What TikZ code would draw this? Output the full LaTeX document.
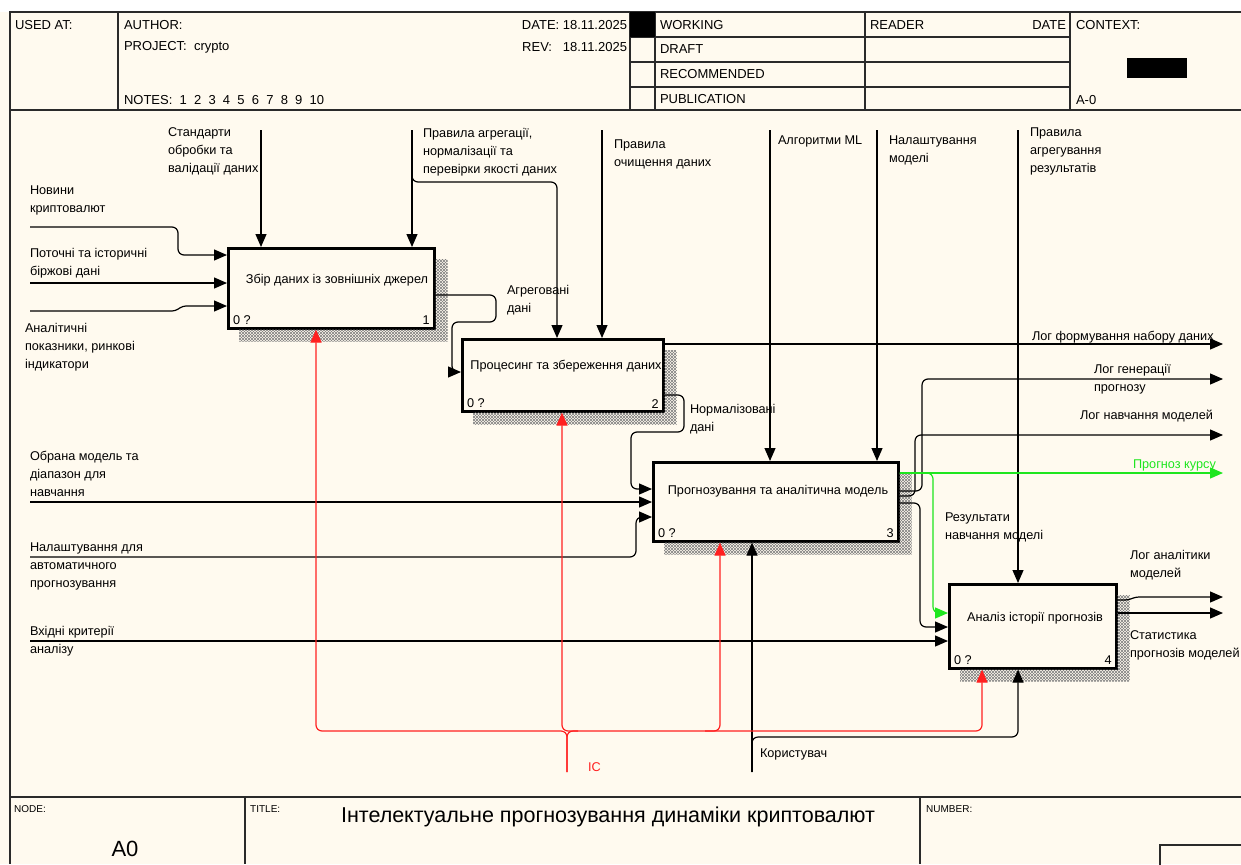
\documentclass[tikz,border=0pt]{standalone}
\usepackage{fontspec}
\setmainfont{Liberation Sans}
\usetikzlibrary{arrows.meta,patterns,calc}

\definecolor{paper}{HTML}{FFFAEF}
\definecolor{rule}{HTML}{2A2A2A}
\definecolor{icred}{HTML}{FF2020}
\definecolor{fcgreen}{HTML}{1EE61E}

\tikzset{
  txt/.style={font=\fontsize{12.7}{18}\selectfont, inner sep=0pt, outer sep=0pt},
  lbl/.style={txt, align=left, anchor=north west},
  hdr/.style={font=\fontsize{13}{15}\selectfont, inner sep=0pt, outer sep=0pt, anchor=west},
  tag/.style={font=\fontsize{10}{11}\selectfont, inner sep=0pt, anchor=north west},
  frame/.style={draw=rule, line width=1.4pt},
  func/.style={draw=black, line width=2.6pt, fill=paper, anchor=north west, inner sep=0pt},
  flow/.style={draw=black, line width=1.2pt, rounded corners=6pt},
  arr/.style={flow, -{Triangle[length=13pt,width=11pt]}},
  icarr/.style={arr, color=icred},
  fcarr/.style={arr, color=fcgreen},
  hatchA/.style={pattern=north east lines, pattern color=gray},
  hatchB/.style={pattern=north west lines, pattern color=gray},
}

% hatched drop shadow to the right of and below a function box
\newcommand\boxshade[1]{%
  \foreach \h in {hatchA,hatchB}{%
    \path[\h] ($(#1.north east)+(0,12)$) -- ++(12,0)
      -- ($(#1.south east)+(12,12)$) -- ($(#1.south west)+(12,12)$)
      -- ($(#1.south west)+(12,0)$) -- (#1.south east) -- cycle;}%
}

\begin{document}
\begin{tikzpicture}[x=1pt, y=-1pt]
% sheet
\useasboundingbox (0,0) rectangle (1241,864);
\fill[white] (0,0) rectangle (1241,864);
\fill[paper] (0,12) rectangle (1241,864);

% ---------- form frame ----------
\draw[frame] (1241,12) -- (10,12) -- (10,864);
\draw[frame] (10,110) -- (1241,110);
\draw[frame] (10,797) -- (1241,797);
\draw[frame] (118,12) -- (118,110);
\draw[frame] (630,12) -- (630,110);
\draw[frame] (655,12) -- (655,110);
\draw[frame] (865,12) -- (865,110);
\draw[frame] (1070,12) -- (1070,110);
\draw[frame] (630,37) -- (1070,37);
\draw[frame] (630,62) -- (1070,62);
\draw[frame] (630,87) -- (1070,87);
\fill[black] (630,12) rectangle (655,37);
\fill[black] (1127,58) rectangle (1187,78);
\draw[frame] (245,797) -- (245,864);
\draw[frame] (920,797) -- (920,864);
\draw[frame] (1160,845) rectangle (1250,870);

% header texts
\node[hdr] (usedat) at (15,25) {USED AT:};
\node[hdr] (author) at (124,25) {AUTHOR:};
\node[hdr] (project) at (124,47) {PROJECT:\ \ crypto};
\node[hdr] (notes) at (124,100) {NOTES:\ \ 1\ \ 2\ \ 3\ \ 4\ \ 5\ \ 6\ \ 7\ \ 8\ \ 9\ \ 10};
\node[hdr, anchor=east] (date) at (627,25) {DATE: 18.11.2025};
\node[hdr, anchor=east] (rev) at (627,47) {REV:\ \ \ 18.11.2025};
\node[hdr] (working) at (660,25) {WORKING};
\node[hdr] (draft) at (660,49) {DRAFT};
\node[hdr] (recommended) at (660,74) {RECOMMENDED};
\node[hdr] (publication) at (660,99) {PUBLICATION};
\node[hdr] (reader) at (870,25) {READER};
\node[hdr, anchor=east] (rdate) at (1066,25) {DATE};
\node[hdr] (context) at (1076,25) {CONTEXT:};
\node[hdr] (ctxnode) at (1076,100) {A-0};

% footer texts
\node[tag] (nodetag) at (14,805) {NODE:};
\node[tag] (titletag) at (250,805) {TITLE:};
\node[tag] (numbertag) at (926,805) {NUMBER:};
\node[font=\fontsize{22}{24}\selectfont, inner sep=0pt] (nodeid) at (125,849) {A0};
\node[font=\fontsize{21.5}{23}\selectfont, inner sep=0pt] (title) at (608,817)
  {Інтелектуальне прогнозування динаміки криптовалют};

% ---------- function boxes ----------
\node[func, minimum width=206pt, minimum height=80pt] (b1) at (227,247) {};
\node[func, minimum width=201pt, minimum height=72pt] (b2) at (461,338) {};
\node[func, minimum width=245pt, minimum height=79pt] (b3) at (652,461) {};
\node[func, minimum width=167pt, minimum height=84pt] (b4) at (948,583) {};

\boxshade{b1}
\boxshade{b2}
\boxshade{b3}
\boxshade{b4}

\node[txt] (t1) at (337,280) {Збір даних із зовнішніх джерел};
\node[txt] (t2) at (566,366) {Процесинг та збереження даних};
\node[txt] (t3) at (778,491) {Прогнозування та аналітична модель};
\node[txt] (t4) at (1035,618) {Аналіз історії прогнозів};

\foreach \b/\n in {b1/1,b2/2,b3/3,b4/4}{
  \node[txt, anchor=west] (\b q) at ($(\b.south west)+(6,-9)$) {0 ?};
  \node[txt, anchor=east] (\b n) at ($(\b.south east)+(-6,-9)$) {\n};
}

% ---------- controls ----------
\coordinate (c1) at (261,130);
\coordinate (c2) at (412,130);
\coordinate (c3) at (602,130);
\coordinate (c4) at (770,130);
\coordinate (c5) at (877,130);
\coordinate (c6) at (1018,130);
\draw[arr] (c1) -- (c1 |- b1.north);
\draw[arr] (c2) -- (c2 |- b1.north);
\draw[arr] (c2) -- (412,182) -- (557,182) -- (557,0 |- b2.north);
\draw[arr] (c3) -- (c3 |- b2.north);
\draw[arr] (c4) -- (c4 |- b3.north);
\draw[arr] (c5) -- (c5 |- b3.north);
\draw[arr] (c6) -- (c6 |- b4.north);

% ---------- inputs ----------
\coordinate (i1) at (30,227);
\coordinate (i2) at (30,283);
\coordinate (i3) at (30,311);
\coordinate (i4) at (30,502);
\coordinate (i5) at (30,557);
\coordinate (i6) at (30,641);
\draw[arr] (i1) -- (178,227) -- (178,255) -- (b1.west |- 0,255);
\draw[arr] (i2) -- (b1.west |- i2);
\draw[arr, rounded corners=3pt] (i3) -- (175,311) -- (183,306) -- (b1.west |- 0,306);
\draw[arr] (i4) -- (b3.west |- i4);
\draw[arr] (i5) -- (636,557) -- (636,517) -- (b3.west |- 0,517);
\draw[arr] (i6) -- (b4.west |- i6);

% ---------- internal flows ----------
\draw[arr] (b1.east |- 0,295) -- (496,295) -- (496,322) -- (452,322)
  -- (452,372) -- (b2.west |- 0,372);
\draw[arr] (b2.east |- 0,395) -- (684,395) -- (684,432) -- (631,432)
  -- (631,489) -- (b3.west |- 0,489);
\draw[arr] (b3.east |- 0,503) -- (920,503) -- (920,627) -- (b4.west |- 0,627);
\draw[fcarr] (b3.east |- 0,473) -- (933,473) -- (933,613) -- (b4.west |- 0,613);

% ---------- outputs ----------
\coordinate (o1) at (1223,344);
\coordinate (o2) at (1223,379);
\coordinate (o3) at (1223,435);
\coordinate (o4) at (1223,473);
\coordinate (o5) at (1223,597);
\coordinate (o6) at (1223,613);
\draw[arr] (b2.east |- o1) -- (o1);
\draw[arr] (b3.east |- 0,491) -- (922,491) -- (922,379) -- (o2);
\draw[arr] (b3.east |- 0,496) -- (915,496) -- (915,435) -- (o3);
\draw[fcarr] (b3.east |- o4) -- (o4);
\draw[arr, rounded corners=3pt] (b4.east |- 0,600) -- (1128,600) -- (1136,597) -- (o5);
\draw[arr] (b4.east |- o6) -- (o6);

% ---------- mechanisms and calls ----------
\coordinate (m1) at (752,772);
\draw[arr] (m1) -- (m1 |- b3.south);
\draw[arr] (m1) -- (752,737) -- (1018,737) -- (1018,0 |- b4.south);
\coordinate (ic) at (567,772);
\coordinate (icfork) at (578,731);
\coordinate (icjoin) at (705,731);
\draw[icarr] (ic) -- (567,731) -- (316,731) -- (316,0 |- b1.south);
\draw[icarr] (ic) -- (567,731) -- (982,731) -- (982,0 |- b4.south);
\draw[icarr] (icfork) -- (562,731) -- (562,0 |- b2.south);
\draw[icarr] (icjoin) -- (720,731) -- (720,0 |- b3.south);

% ---------- arrow labels ----------
\node[lbl] (l1) at (168,128) {Стандарти\\обробки та\\валідації даних};
\node[lbl] (l2) at (423,128) {Правила агрегації,\\нормалізації та\\перевірки якості даних};
\node[lbl] (l3) at (614,140) {Правила\\очищення даних};
\node[lbl] (l4) at (778,136) {Алгоритми ML};
\node[lbl] (l5) at (889,136) {Налаштування\\моделі};
\node[lbl] (l6) at (1030,128) {Правила\\агрегування\\результатів};
\node[lbl] (l7) at (30,186) {Новини\\криптовалют};
\node[lbl] (l8) at (30,248) {Поточні та історичні\\біржові дані};
\node[lbl] (l9) at (25,323) {Аналітичні\\показники, ринкові\\індикатори};
\node[lbl] (l10) at (30,451) {Обрана модель та\\діапазон для\\навчання};
\node[lbl] (l11) at (30,543) {Налаштування для\\автоматичного\\прогнозування};
\node[lbl] (l12) at (30,626) {Вхідні критерії\\аналізу};
\node[lbl] (l13) at (507,285) {Агреговані\\дані};
\node[lbl] (l14) at (690,404) {Нормалізовані\\дані};
\node[lbl] (l15) at (1032,331) {Лог формування набору даних};
\node[lbl] (l16) at (1094,364) {Лог генерації\\прогнозу};
\node[lbl] (l17) at (1080,410) {Лог навчання моделей};
\node[lbl, text=fcgreen] (l18) at (1133,460) {Прогноз курсу};
\node[lbl] (l19) at (945,513) {Результати\\навчання моделі};
\node[lbl] (l20) at (1130,550) {Лог аналітики\\моделей};
\node[lbl] (l21) at (1130,631) {Статистика\\прогнозів моделей};
\node[lbl] (l22) at (760,749) {Користувач};
\node[lbl, text=icred] (l23) at (588,763) {IC};
\end{tikzpicture}
\end{document}
